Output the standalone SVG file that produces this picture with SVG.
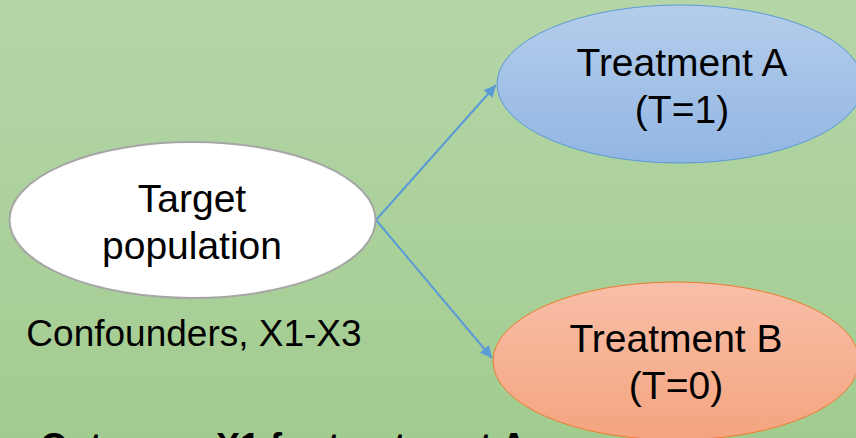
<svg xmlns="http://www.w3.org/2000/svg" width="856" height="438" viewBox="0 0 856 438">
<defs>
<linearGradient id="bg" x1="0" y1="0" x2="0" y2="1">
<stop offset="0" stop-color="#b5d6a8"/>
<stop offset="1" stop-color="#a2cc8f"/>
</linearGradient>
<linearGradient id="gA" x1="0" y1="0" x2="0" y2="1">
<stop offset="0" stop-color="#b5cdeb"/>
<stop offset="1" stop-color="#92b6e3"/>
</linearGradient>
<linearGradient id="gB" x1="0" y1="0" x2="0" y2="1">
<stop offset="0" stop-color="#f8bfa8"/>
<stop offset="1" stop-color="#f4a47f"/>
</linearGradient>
<marker id="arr" viewBox="0 0 10 10" refX="10" refY="5" markerWidth="7" markerHeight="6" orient="auto" markerUnits="strokeWidth">
<path d="M0,0 L10,5 L0,10 z" fill="#5b9bd5"/>
</marker>
<style>
.t{font-family:"Liberation Sans",Arial,sans-serif;fill:#000;text-anchor:middle}
.n{font-size:39px}
.edge{stroke:#5b9bd5;stroke-width:2;fill:none;marker-end:url(#arr)}
</style>
</defs>
<rect width="856" height="438" fill="url(#bg)"/>
<g id="connectors">
<line class="edge" x1="376" y1="220" x2="496" y2="85"/>
<line class="edge" x1="376" y1="220" x2="492" y2="358"/>
</g>
<g id="target">
<ellipse cx="192.5" cy="220" rx="183" ry="78" fill="#fff" stroke="#a6a6a6" stroke-width="2"/>
<text class="t n" x="192" y="212">Target</text>
<text class="t n" x="192" y="259">population</text>
</g>
<g id="treatmentA">
<ellipse cx="680" cy="84" rx="183" ry="79" fill="url(#gA)" stroke="#5b9bd5" stroke-width="1"/>
<text class="t n" x="682" y="76">Treatment A</text>
<text class="t n" x="682" y="123">(T=1)</text>
</g>
<g id="treatmentB">
<ellipse cx="676" cy="361" rx="183" ry="79" fill="url(#gB)" stroke="#ed7d31" stroke-width="1"/>
<text class="t n" x="676" y="352">Treatment B</text>
<text class="t n" x="676" y="399">(T=0)</text>
</g>
<g id="confounders">
<text class="t" x="194" y="346" style="font-size:37px">Confounders, X1-X3</text>
</g>
<g id="outcome">
<text x="40" y="459" style="font-family:'Liberation Sans',Arial,sans-serif;font-size:36px;font-weight:bold;fill:#000">Outcome, X1 for treatment A</text>
</g>
</svg>
